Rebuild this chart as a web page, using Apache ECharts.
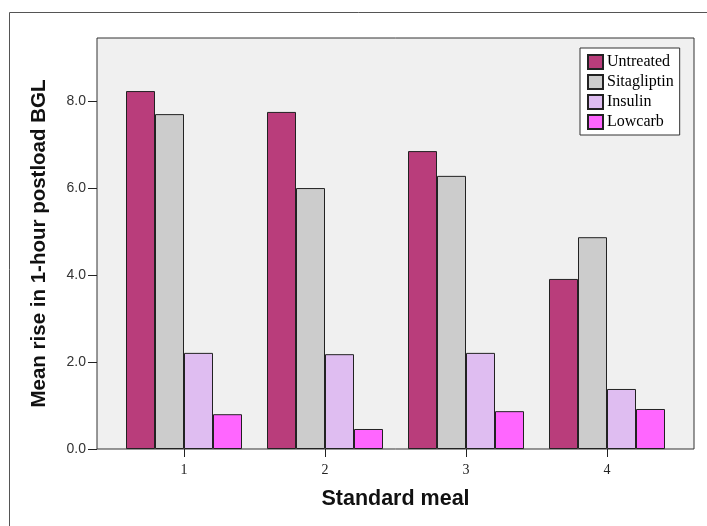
<!DOCTYPE html>
<html>
<head>
<meta charset="utf-8">
<script src="https://cdn.jsdelivr.net/npm/echarts@6/dist/echarts.min.js"></script>
<style>
  html, body { margin: 0; padding: 0; background: #fff; }
  #chart { width: 707px; height: 526px; }
</style>
</head>
<body>
<div id="chart"></div>
<script>
  // data
  const meals = ['1', '2', '3', '4'];
  const untreated   = [8.23, 7.75, 6.85, 3.91];
  const sitagliptin = [7.70, 6.00, 6.28, 4.87];
  const insulin     = [2.21, 2.18, 2.21, 1.38];
  const lowcarb     = [0.80, 0.46, 0.87, 0.92];
  const yTicks = [0, 2, 4, 6, 8];

  const COLORS = {
    untreated:   '#b93d7b',
    sitagliptin: '#cccccc',
    insulin:     '#dfbdf1',
    lowcarb:     '#ff66ff',
  };

  const YMAX = 9.45;
  const chart = echarts.init(document.getElementById('chart'));

  function barSeries(name, data, color) {
    return {
      name, type: 'bar', xAxisIndex: 1, yAxisIndex: 1,
      data, barWidth: 29, barGap: '0%',
      itemStyle: { color, borderColor: '#222', borderWidth: 1 },
    };
  }

  chart.setOption({
    animation: false,
    backgroundColor: '#fff',
    graphic: [{
      type: 'rect', silent: true, z: -1,
      shape: { x: 9.5, y: 12.5, width: 720, height: 540 },
      style: { fill: 'none', stroke: '#555', lineWidth: 1 },
    }],
    grid: [
      { left: 97, top: 38, right: 13, bottom: 77, show: true,
        backgroundColor: '#f0f0f0', borderColor: '#333', borderWidth: 1 },
      { left: 113.5, top: 38, right: 29.5, bottom: 77 },
    ],
    legend: {
      orient: 'vertical', left: 580, top: 48,
      backgroundColor: '#fff', borderColor: '#333', borderWidth: 1,
      padding: [6, 6, 5, 7], itemGap: 4, itemWidth: 15, itemHeight: 14,
      icon: 'rect',
      textStyle: { fontFamily: 'Liberation Serif', fontSize: 16, lineHeight: 14, color: '#000', padding: [0, 0, 0, -1] },
      data: ['Untreated', 'Sitagliptin', 'Insulin', 'Lowcarb'],
    },
    xAxis: [
      { gridIndex: 0, type: 'value', show: false, min: 0, max: 1 },
      {
        gridIndex: 1, type: 'category', data: meals,
        name: 'Standard meal', nameLocation: 'middle', nameGap: 39,
        nameTextStyle: { fontFamily: 'Liberation Sans', fontWeight: 'bold', fontSize: 21.5, color: '#111' },
        axisLine: { show: false },
        axisTick: { show: true, alignWithLabel: true, length: 8, lineStyle: { color: '#222' } },
        axisLabel: { fontFamily: 'Liberation Serif', fontSize: 14, color: '#222', margin: 14 },
      },
    ],
    yAxis: [
      {
        gridIndex: 0, type: 'value', min: 0, max: YMAX, interval: 2,
        name: 'Mean rise in 1-hour postload BGL', nameLocation: 'middle', nameGap: 47,
        nameTextStyle: { fontFamily: 'Liberation Sans', fontWeight: 'bold', fontSize: 20.5, color: '#111' },
        axisLine: { show: false },
        axisTick: { show: true, length: 9, lineStyle: { color: '#222' },
          customValues: yTicks },
        axisLabel: { fontFamily: 'Liberation Sans', fontSize: 14, color: '#333', margin: 11,
          customValues: yTicks, formatter: v => v.toFixed(1) },
        splitLine: { show: false },
      },
      { gridIndex: 1, type: 'value', min: 0, max: YMAX, show: false, splitLine: { show: false } },
    ],
    series: [
      barSeries('Untreated', untreated, COLORS.untreated),
      barSeries('Sitagliptin', sitagliptin, COLORS.sitagliptin),
      barSeries('Insulin', insulin, COLORS.insulin),
      barSeries('Lowcarb', lowcarb, COLORS.lowcarb),
    ],
  });
</script>
</body>
</html>
